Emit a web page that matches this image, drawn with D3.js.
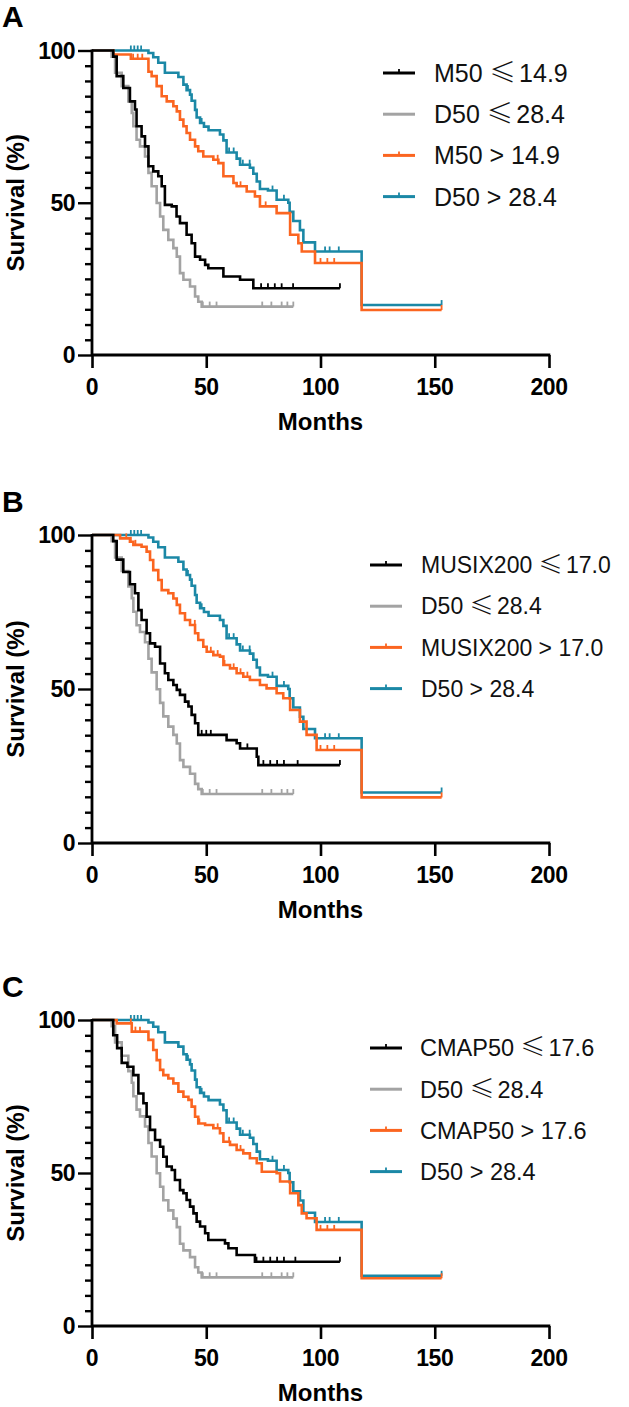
<!DOCTYPE html>
<html><head><meta charset="utf-8">
<script src="https://cdn.jsdelivr.net/npm/d3@7/dist/d3.min.js"></script>
<style>
html,body{margin:0;padding:0;background:#fff;}
svg{display:block;}
</style></head>
<body>
<svg id="chart" width="629" height="1407"></svg>
<script>
// ---------------- DATA ----------------
const panelLetters = ["A", "B", "C"];
const xTicks = [0, 50, 100, 150, 200];
const yTicks = [0, 50, 100];
const xLabel = "Months";
const yLabel = "Survival (%)";

const legendA = ["M50 \u226414.9", "D50 \u226428.4", "M50 > 14.9", "D50 > 28.4"];
const legendB = ["MUSIX200 \u226417.0", "D50 \u226428.4", "MUSIX200 > 17.0", "D50 > 28.4"];
const legendC = ["CMAP50 \u226417.6", "D50 \u226428.4", "CMAP50 > 17.6", "D50 > 28.4"];

// Shared D50 curves (same in all panels): [month, survival %]
const d50Low = [[0,100],[5.7,100],[8.6,98],[10.1,92.7],[13,88.3],[15.9,83.3],[17.4,79.5],[18.1,75.1],[19.5,70.7],[21,68.5],[23.2,65.2],[24.7,59.8],[26.1,55.4],[28.3,49.9],[29.8,45.5],[31.2,41.1],[33.4,37.8],[35.6,35.1],[37.1,32.3],[38.5,26.9],[40,24.7],[42.9,22.5],[45.1,19.2],[46.5,17.5],[48,15.9]];
const d50LowEnd = 88.1;
const d50LowCens = [48.5, 51.5, 54.5, 74.5, 78.5, 83, 85.5, 88.1];

const d50High = [[0,100],[24.7,99.2],[26.8,97.8],[29,96],[31.9,92.7],[37.8,91.3],[40,88.8],[41.4,87],[42.9,85.5],[43.6,83.5],[45.1,80.5],[45.8,78],[47.3,76.2],[49,75],[51,73.8],[56,72.4],[57.5,70.5],[58.9,66.5],[63.3,64.5],[64.8,62.5],[69.1,61.5],[70.6,59.5],[72.1,57],[73.5,54.5],[77,54],[80.8,51],[85.9,50],[86.5,47],[88.1,44],[91,41],[92.5,37],[97.6,34],[118,16.4]];
const d50HighEnd = 153;
const d50HighCens = [17, 18.5, 20, 21.5, 42, 48, 56, 60, 62, 66, 69, 79, 84, 102, 104, 108, 153];

// Panel A
const m50Low = [[0,100],[5.7,100],[9.3,98],[10.8,91.6],[13.7,87.7],[16.6,83.3],[18.8,80.6],[19.5,75.1],[21.7,71.8],[23.2,68.5],[24.7,62],[26.8,60.3],[29,58.7],[30.5,55.4],[31.9,49.3],[34.9,48.8],[37,45.5],[38.5,43.3],[41.4,39.5],[43.6,36.7],[45.1,32.3],[47.3,31.3],[49.5,29.6],[50.9,28.5],[57.5,25.8],[64.8,24.7],[70.6,21.9]];
const m50LowEnd = 108.5;
const m50LowCens = [74, 77, 80, 83, 88, 108.5];
const m50High = [[0,100],[9.3,98.7],[17,97.3],[24.7,93],[26.1,91.6],[28.3,88.3],[30.5,85],[32.7,83.3],[35.6,81.7],[37.1,80],[38.5,77.3],[40,75.1],[41.4,72.9],[42.9,70.7],[45.1,68.5],[46.5,66.9],[48.7,65.2],[53.1,64.1],[55.3,63],[57.5,58.7],[61.9,56.5],[63.3,55.4],[67.7,53.7],[71.3,52.1],[73.5,48.8],[80.8,46.6],[86.7,39.5],[90.3,36.7],[91.8,34],[97.6,30.2],[118,14.8]];
const m50HighEnd = 153;
const m50HighCens = [18, 20, 22, 55, 65, 76, 100, 103, 106, 153];

// Panel B
const musixLow = [[0,100],[5.7,100],[9.3,98],[10.8,92],[13.7,88],[16.6,84],[18.8,81.1],[20.3,75.6],[21.7,72.4],[23.9,68.1],[25.4,64.8],[27.6,63.7],[29.8,58.3],[31.9,55.1],[33.4,52.9],[35.6,51.3],[37.1,49.7],[38.5,48.1],[40.7,45.9],[42.2,44.3],[43.6,41.6],[45.1,38.9],[46.5,35.1],[58.9,33.4],[63.3,32.4],[64.8,30.7],[72.1,28],[72.8,25.3]];
const musixLowEnd = 108.5;
const musixLowCens = [48, 50, 52, 68, 75, 78, 81, 84, 90, 108.5];
const musixHigh = [[0,100],[12.3,98.9],[16.6,97.8],[18.1,96.8],[21.7,96.2],[23.9,94.6],[25.4,91.9],[26.8,88.6],[29,85.4],[30.5,82.1],[33.4,81.1],[35.6,79.4],[37.1,77.3],[38.5,74.6],[40.7,72.4],[42.9,70.8],[45.1,68.1],[46.5,65.9],[48.7,63.7],[50.2,62.1],[53.1,61],[56,60.5],[57.5,57.8],[60.4,56.7],[63.3,55.1],[66.2,54],[69.1,52.9],[73.5,51.3],[76.4,50.2],[80.8,48.6],[83.7,47],[86.7,43.2],[91,39.4],[93.9,35.1],[98.3,30.2],[118,14.8]];
const musixHighEnd = 153;
const musixHighCens = [15, 17, 19, 45, 52, 55, 58, 62, 65, 68, 100, 103, 106, 153];

// Panel C
const cmapLow = [[0,100],[5.7,100],[9.3,95],[11,90.8],[13,86],[15.5,84.7],[18.1,82],[20.3,76],[22.5,72.8],[23.9,68.4],[25.4,64.1],[27.6,60.8],[29.8,58.6],[31.2,55.3],[32.7,52.1],[34.9,51],[36.3,47.7],[38.5,44.4],[40,43.4],[41.4,41.2],[42.9,39],[44.4,36.8],[45.8,34.1],[47.3,32.5],[49.5,30.3],[50.9,28.1],[58.2,27],[59.7,25.4],[63.3,23.2],[71.3,21]];
const cmapLowEnd = 108.5;
const cmapLowCens = [72, 75, 78, 81, 84, 89, 108.5];
const cmapHigh = [[0,100],[10.8,98.9],[17.4,96.2],[24.7,93.5],[26.8,90.2],[28.3,86.9],[29.8,83.7],[31.2,82],[33.4,80.9],[35.6,79.3],[37.8,76.6],[40,74.9],[42.2,73.9],[43.6,71.7],[45.1,68.4],[46.5,66.2],[49.5,65.7],[53.1,64.6],[56,63],[57.5,60.2],[60.4,59.2],[63.3,57.5],[66.2,56.4],[69.1,54.8],[72.1,53.2],[74.3,50.4],[80.8,49.9],[82.3,47.2],[86.7,43.4],[90.3,39.5],[91.8,36.8],[93.9,35.2],[98.3,31.4],[118,15.6]];
const cmapHighEnd = 153;
const cmapHighCens = [17, 19, 21, 47, 55, 60, 65, 100, 103, 106, 153];

// ---------------- STYLE / LAYOUT ----------------
const colors = ["#000000", "#a3a3a3", "#fb6520", "#1b88a6"];
const panels = [
  {letter: panelLetters[0], legend: legendA, top: 50.5, bottom: 355, legX: 383, legY: 73, textX: 434, legFont: 25,
   curves: [[m50Low, m50LowEnd, m50LowCens],[d50Low, d50LowEnd, d50LowCens],[m50High, m50HighEnd, m50HighCens],[d50High, d50HighEnd, d50HighCens]]},
  {letter: panelLetters[1], legend: legendB, top: 535, bottom: 843, legX: 370, legY: 565, textX: 421, legFont: 23,
   curves: [[musixLow, musixLowEnd, musixLowCens],[d50Low, d50LowEnd, d50LowCens],[musixHigh, musixHighEnd, musixHighCens],[d50High, d50HighEnd, d50HighCens]]},
  {letter: panelLetters[2], legend: legendC, top: 1020, bottom: 1326, legX: 370, legY: 1048, textX: 420, legFont: 23.5,
   curves: [[cmapLow, cmapLowEnd, cmapLowCens],[d50Low, d50LowEnd, d50LowCens],[cmapHigh, cmapHighEnd, cmapHighCens],[d50High, d50HighEnd, d50HighCens]]}
];
const font = "'Liberation Sans', Arial, Helvetica, sans-serif";
const svg = d3.select("#chart");
const x = d3.scaleLinear().domain([0, 200]).range([92, 549]);

function survAt(pts, t) {
  let s = pts[0][1];
  for (const p of pts) { if (p[0] <= t) s = p[1]; else break; }
  return s;
}

panels.forEach((P, pi) => {
  const g = svg.append("g");
  const y = d3.scaleLinear().domain([0, 100]).range([P.bottom, P.top]);

  // panel letter
  g.append("text").attr("x", 2).attr("y", P.top - 23.5)
    .attr("font-family", font).attr("font-weight", "bold").attr("font-size", 30).text(P.letter);

  const order = [3, 2, 1, 0];
  const line = d3.line().x(d => x(d[0])).y(d => y(d[1])).curve(d3.curveStepAfter);
  order.forEach(ci => {
    const [pts, end, cens] = P.curves[ci];
    const full = pts.concat([[end, pts[pts.length - 1][1]]]);
    g.append("path").attr("d", line(full)).attr("fill", "none")
      .attr("stroke", colors[ci]).attr("stroke-width", 2.6);
    g.selectAll(null).data(cens).enter().append("line")
      .attr("x1", d => x(d)).attr("x2", d => x(d))
      .attr("y1", d => y(survAt(pts, d))).attr("y2", d => y(survAt(pts, d)) - 5)
      .attr("stroke", colors[ci]).attr("stroke-width", 1.8);
  });

  // axes
  const yAxis = d3.axisLeft(y).tickValues(d3.range(0, 101, 5)).tickSize(6).tickFormat("");
  const ya = g.append("g").attr("transform", `translate(${x(0)},0)`).call(yAxis);
  ya.selectAll(".tick line").attr("stroke-width", 2.4).attr("x2", d => (d % 50 === 0 ? -14 : -7));
  ya.select(".domain").attr("stroke-width", 2.8).attr("d", `M0,${P.top - 1}V${P.bottom}`);
  yTicks.forEach(v => {
    g.append("text").attr("x", 75).attr("y", y(v)).attr("dy", "0.36em")
      .attr("text-anchor", "end").attr("font-family", font).attr("font-weight", "bold")
      .attr("font-size", 23).attr("letter-spacing", -0.5).text(v);
  });

  const xAxis = d3.axisBottom(x).tickValues(xTicks).tickSize(13).tickFormat("");
  const xa = g.append("g").attr("transform", `translate(0,${P.bottom})`).call(xAxis);
  xa.selectAll(".tick line").attr("stroke-width", 2.6);
  xa.select(".domain").attr("stroke-width", 2.8).attr("d", `M${x(0)},0H${x(200) + 1.3}`);
  xTicks.forEach(v => {
    g.append("text").attr("x", x(v)).attr("y", P.bottom + 40)
      .attr("text-anchor", "middle").attr("font-family", font).attr("font-weight", "bold")
      .attr("font-size", 23).attr("letter-spacing", -0.5).text(v);
  });

  g.append("text").attr("x", (x(0) + x(200)) / 2).attr("y", P.bottom + 75)
    .attr("text-anchor", "middle").attr("font-family", font).attr("font-weight", "bold")
    .attr("font-size", 24).text(xLabel);

  g.append("text").attr("transform", `translate(24,${(P.top + P.bottom) / 2}) rotate(-90)`)
    .attr("text-anchor", "middle").attr("font-family", font).attr("font-weight", "bold")
    .attr("font-size", 24).text(yLabel);

  // legend
  P.legend.forEach((lab, i) => {
    const ly = P.legY + i * 41.2;
    g.append("line").attr("x1", P.legX).attr("x2", P.legX + 32).attr("y1", ly).attr("y2", ly)
      .attr("stroke", colors[i]).attr("stroke-width", 3);
    if (i !== 1) {
      g.append("line").attr("x1", P.legX + 16).attr("x2", P.legX + 16).attr("y1", ly).attr("y2", ly - 4)
        .attr("stroke", colors[i]).attr("stroke-width", 1.8);
    }
    const parts = lab.split(/(\u2264)/);
    const t = g.append("text").attr("x", P.textX).attr("y", ly).attr("dy", "0.36em")
      .attr("font-family", font).attr("font-size", P.legFont).attr("fill", "#111");
    let afterLe = false;
    parts.forEach(p => {
      if (p === "\u2264") {
        t.append("tspan").attr("font-family", "'Noto Sans CJK SC', sans-serif")
          .attr("font-weight", 300).attr("font-size", P.legFont * 1.06).text(p);
        afterLe = true;
      } else if (p.length) {
        const ts = t.append("tspan").text(p);
        if (afterLe) ts.attr("dx", 3);
      }
    });
  });
});
</script>
</body></html>
